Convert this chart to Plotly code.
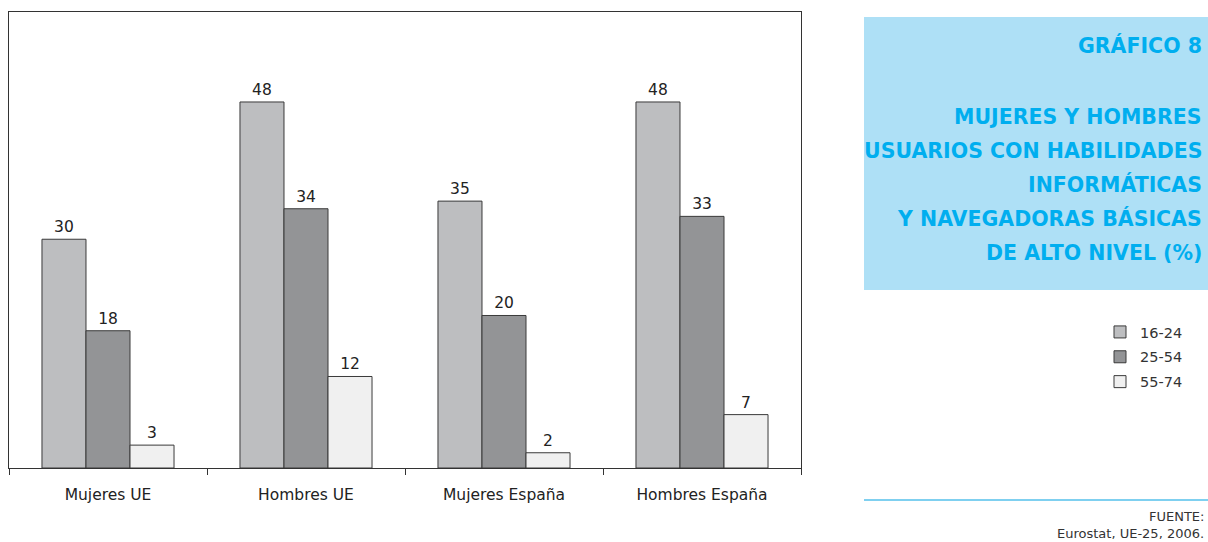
import plotly.graph_objects as go

categories = ["Mujeres UE", "Hombres UE", "Mujeres España", "Hombres España"]
age_groups = ["16-24", "25-54", "55-74"]
values_16_24 = [30, 48, 35, 48]
values_25_54 = [18, 34, 20, 33]
values_55_74 = [3, 12, 2, 7]
series = [values_16_24, values_25_54, values_55_74]
colors = ["#bdbec0", "#939496", "#f0f0f0"]

title_lines = ["MUJERES Y HOMBRES", "USUARIOS CON HABILIDADES", "INFORMÁTICAS",
               "Y NAVEGADORAS BÁSICAS", "DE ALTO NIVEL (%)"]

W, H = 1208, 542
FONT = "'DejaVu Sans', sans-serif"


def px(x):
    return x / W


def py(y):
    return 1 - y / H


fig = go.Figure()
for i, (name, vals, col) in enumerate(zip(age_groups, series, colors)):
    fig.add_trace(go.Bar(
        x=categories, y=vals, name=name,
        marker=dict(color=col, line=dict(color="#3a3a3a", width=1)),
        text=[str(v) for v in vals], textposition="outside",
        textfont=dict(size=15.5, color="#222", family=FONT),
        cliponaxis=False, legendgroup=name,
    ))

annotations = [dict(
    text="<b>GRÁFICO 8</b>", x=px(1204), y=py(46), xref="paper", yref="paper",
    xanchor="right", yanchor="middle", showarrow=False,
    font=dict(size=20.5, color="#00aeef", family=FONT),
)]
for k, line in enumerate(title_lines):
    annotations.append(dict(
        text=f"<b>{line}</b>", x=px(1204), y=py(117 + k * 34), xref="paper", yref="paper",
        xanchor="right", yanchor="middle", showarrow=False,
        font=dict(size=20.5, color="#00aeef", family=FONT),
    ))
annotations.append(dict(
    text="FUENTE:", x=px(1206), y=py(516), xref="paper", yref="paper",
    xanchor="right", yanchor="middle", showarrow=False,
    font=dict(size=13, color="#333", family=FONT),
))
annotations.append(dict(
    text="Eurostat, UE-25, 2006.", x=px(1206), y=py(533), xref="paper", yref="paper",
    xanchor="right", yanchor="middle", showarrow=False,
    font=dict(size=13, color="#333", family=FONT),
))

shapes = [
    dict(type="rect", xref="paper", yref="paper", x0=px(864), x1=1.01, y0=py(290), y1=py(17),
         fillcolor="#aee0f6", line=dict(width=0), layer="below"),
    dict(type="line", xref="paper", yref="paper", x0=px(864), x1=1.0, y0=py(500), y1=py(500),
         line=dict(color="#7fd0f0", width=2)),
]

fig.update_layout(
    width=W, height=H,
    margin=dict(l=0, r=0, t=0, b=0),
    paper_bgcolor="white", plot_bgcolor="white",
    barmode="group", bargap=0.333, bargroupgap=0,
    font=dict(family=FONT, color="#333"),
    xaxis=dict(
        domain=[px(9), px(801)],
        showline=True, linecolor="#333", linewidth=1, mirror=True,
        ticks="outside", tickson="boundaries", ticklen=6, tickcolor="#333",
        tickfont=dict(size=15.5, color="#222", family=FONT),
        ticklabelstandoff=12,
        showgrid=False,
    ),
    yaxis=dict(
        domain=[py(468), py(12)], range=[0, 59.8],
        showline=True, linecolor="#333", linewidth=1, mirror=True,
        showticklabels=False, ticks="", showgrid=False, zeroline=False,
    ),
    showlegend=True,
    legend=dict(
        x=px(1100), y=py(316), xanchor="left", yanchor="top",
        font=dict(size=14.5, color="#333", family=FONT),
        traceorder="grouped", tracegroupgap=3,
        bgcolor="rgba(0,0,0,0)",
    ),
    annotations=annotations,
    shapes=shapes,
)

fig.write_html("out.html")
